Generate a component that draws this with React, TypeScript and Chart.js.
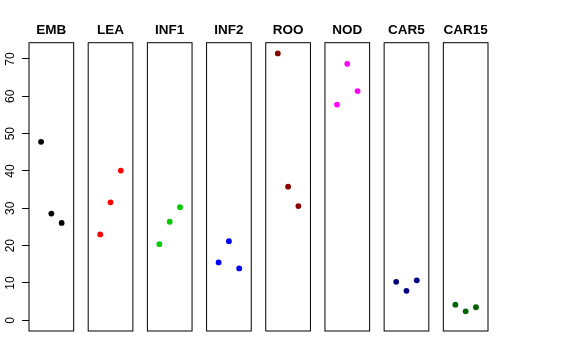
import { useEffect, useRef } from "react";
import { Chart, registerables } from "chart.js";

Chart.register(...registerables);

const categories = ["EMB", "LEA", "INF1", "INF2", "ROO", "NOD", "CAR5", "CAR15"];
const embValues = [47.8, 28.6, 26.1];
const leaValues = [23.0, 31.6, 40.1];
const inf1Values = [20.4, 26.4, 30.3];
const inf2Values = [15.5, 21.2, 13.9];
const rooValues = [71.5, 35.8, 30.6];
const nodValues = [57.8, 68.7, 61.4];
const car5Values = [10.3, 7.9, 10.7];
const car15Values = [4.2, 2.4, 3.5];
const seriesValues = [embValues, leaValues, inf1Values, inf2Values, rooValues, nodValues, car5Values, car15Values];
const colors = ["#000000", "#FF0000", "#00CD00", "#0000FF", "#8B0000", "#FF00FF", "#000080", "#006400"];
const yTicks = [0, 10, 20, 30, 40, 50, 60, 70];

const PANEL_STEP = 5.75;
const HALF = 2.17;
const FONT = "'Liberation Sans', Arial, Helvetica, sans-serif";

const panelPlugin = {
  id: "panels",
  afterDatasetsDraw(chart: any) {
    const { ctx, chartArea, scales } = chart;
    const xs = scales.x;
    ctx.save();
    ctx.strokeStyle = "#000";
    ctx.lineWidth = 1;
    ctx.fillStyle = "#000";
    ctx.font = `bold 13.5px ${FONT}`;
    ctx.textAlign = "center";
    ctx.textBaseline = "alphabetic";
    categories.forEach((name, i) => {
      const c = i * PANEL_STEP;
      const l = xs.getPixelForValue(c - HALF);
      const r = xs.getPixelForValue(c + HALF);
      ctx.strokeRect(l, chartArea.top, r - l, chartArea.bottom - chartArea.top);
      ctx.fillText(name, (l + r) / 2, 33.5);
    });
    ctx.restore();
  },
};

export default function App() {
  const ref = useRef<HTMLCanvasElement | null>(null);
  useEffect(() => {
    if (!ref.current) return;
    const chart = new Chart(ref.current, {
      type: "scatter",
      data: {
        datasets: categories.map((name, i) => ({
          label: name,
          data: seriesValues[i].map((v, j) => ({ x: i * PANEL_STEP + j - 1, y: v })),
          backgroundColor: colors[i],
          borderColor: colors[i],
          pointRadius: 2.9,
          pointBorderWidth: 0,
        })),
      },
      options: {
        responsive: false,
        animation: false,
        events: [],
        layout: { padding: { left: 0, right: 88, top: 42.7, bottom: 29 } },
        plugins: { legend: { display: false }, tooltip: { enabled: false }, title: { display: false } },
        scales: {
          x: { type: "linear", min: -HALF, max: 7 * PANEL_STEP + HALF, display: false },
          y: {
            type: "linear",
            min: -2.86,
            max: 74.36,
            afterBuildTicks: (scale: any) => {
              scale.ticks = yTicks.map((v) => ({ value: v }));
            },
            afterFit: (scale: any) => {
              scale.width = 29;
            },
            border: { display: false },
            grid: { drawOnChartArea: false, drawTicks: true, tickLength: 7, tickColor: "#000", color: "#000" },
            ticks: {
              color: "#000",
              font: { family: FONT, size: 12 },
              padding: 5,
              minRotation: 90,
              maxRotation: 90,
              crossAlign: "center",
            },
          },
        },
      },
      plugins: [panelPlugin],
    });
    return () => chart.destroy();
  }, []);
  return (
    <div style={{ position: "absolute", left: 0, top: 0, width: 576, height: 360, background: "#fff" }}>
      <canvas ref={ref} width={576} height={360} style={{ display: "block" }} />
    </div>
  );
}
